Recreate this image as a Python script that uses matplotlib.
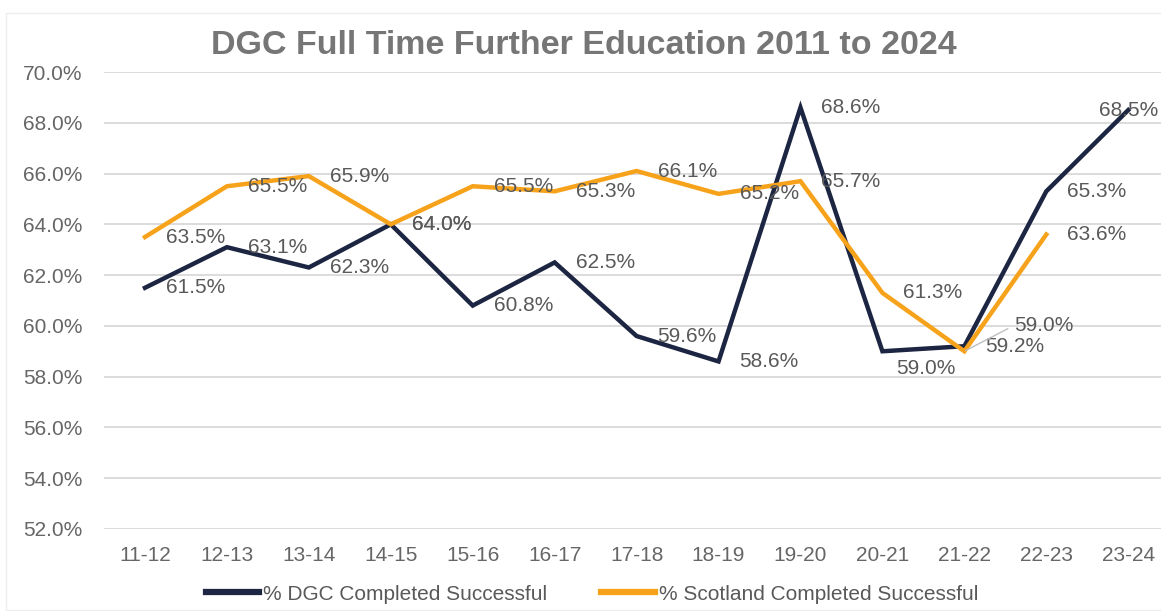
import matplotlib.pyplot as plt
from matplotlib.ticker import FuncFormatter

# data
years = ['11-12', '12-13', '13-14', '14-15', '15-16', '16-17', '17-18',
         '18-19', '19-20', '20-21', '21-22', '22-23', '23-24']
dgc = [61.5, 63.1, 62.3, 64.0, 60.8, 62.5, 59.6, 58.6, 68.6, 59.0, 59.2, 65.3, 68.5]
scotland = [63.5, 65.5, 65.9, 64.0, 65.5, 65.3, 66.1, 65.2, 65.7, 61.3, 59.0, 63.6]

navy = '#1c2541'
orange = '#f7a21b'
grey_txt = '#595959'
fs = 15

plt.rcParams['font.family'] = ['Liberation Sans', 'DejaVu Sans']

fig = plt.figure(figsize=(11.61, 6.11), dpi=100)
ax = fig.add_axes([104 / 1161, 1 - 529 / 611, 1 - 104 / 1161, (529 - 72) / 611])

x = list(range(len(years)))
ax.plot(x, dgc, color=navy, lw=3.2, label='% DGC Completed Successful',
        solid_joinstyle='miter', zorder=3)
ax.plot(x[:len(scotland)], scotland, color=orange, lw=3.2,
        label='% Scotland Completed Successful', solid_joinstyle='miter', zorder=3)

ax.set_ylim(52, 70)
ax.set_xlim(-0.5, 12.4)
ax.set_yticks([52, 54, 56, 58, 60, 62, 64, 66, 68, 70])
ax.yaxis.set_major_formatter(FuncFormatter(lambda v, p: f'{v:.1f}%'))
ax.set_xticks(x)
ax.set_xticklabels(years)
ax.grid(axis='y', color='#d9d9d9', lw=1.3)
ax.set_axisbelow(True)
for s in ax.spines.values():
    s.set_visible(False)
ax.tick_params(length=0, labelsize=fs, labelcolor='#666666')
ax.tick_params(axis='y', pad=15.5)
ax.tick_params(axis='x', pad=12)


def lab(i, v, dx=21, dy=0, ha='left', line=False):
    kw = {}
    if line:
        kw['arrowprops'] = dict(arrowstyle='-', color='#bfbfbf', lw=1,
                                shrinkA=3, shrinkB=1, relpos=(0, 0.5))
    ax.annotate(f'{v:.1f}%', (i, v), xytext=(dx, dy), textcoords='offset pixels',
                ha=ha, va='center', fontsize=fs, color=grey_txt, zorder=4, **kw)


for i, v in enumerate(dgc):
    if i == 9:
        lab(i, v, 43, -17, 'center')
    elif i == 12:
        lab(i, v, 0, 0, 'center')
    else:
        lab(i, v)

for i, v in enumerate(scotland):
    if i == 10:
        lab(i, v, 50, 26, 'left', line=True)
    else:
        lab(i, v)

fig.text(584 / 1161, 1 - 45 / 611, 'DGC Full Time Further Education 2011 to 2024',
         ha='center', va='center', fontsize=24.5, fontweight='bold', color='#767676')

leg = fig.legend(loc='center', bbox_to_anchor=(592 / 1161, 1 - 594 / 611), ncol=2,
                 frameon=False, fontsize=fs, handlelength=2.55, handletextpad=0.2,
                 columnspacing=2.6)
for t in leg.get_texts():
    t.set_color(grey_txt)
for h in leg.get_lines():
    h.set_linewidth(4.5)

fig.patches.append(plt.Rectangle((6 / 1161, 0.002), 1.0, 1 - 14 / 611, fill=False,
                                 edgecolor='#eeeeee', lw=1, transform=fig.transFigure))

fig.savefig('out.png', dpi=100)
